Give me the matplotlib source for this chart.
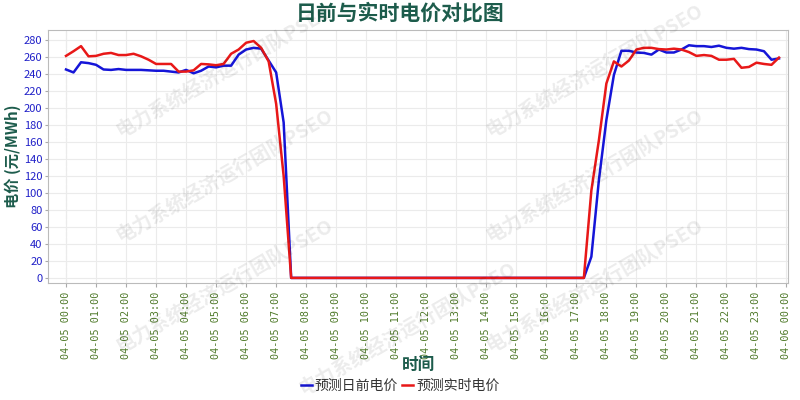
import numpy as np
import matplotlib
matplotlib.use("Agg")
import matplotlib.pyplot as plt

plt.rcParams['font.family'] = ['Noto Sans CJK SC', 'DejaVu Sans']

# 96 points, 15-min resolution, 04-05 00:00 .. 23:45
day_ahead = [
    245.5, 242, 254, 253, 251, 245.5, 245, 246, 245, 245, 245, 244.5,
    244, 244, 243, 242, 245, 241, 244, 249, 248, 250, 250, 263,
    269, 271, 270, 256, 242, 183,
] + [0] * 40 + [
    25, 115, 186, 239, 267.5, 267.5, 265.5, 265, 263, 269, 265.5, 265.5,
    269, 274, 273, 273, 272, 273.5, 271, 270, 271, 269.5, 269, 267,
    257, 258.5,
]
real_time = [
    261.5, 267, 273, 261, 261.5, 264, 265, 262.5, 262.5, 264, 261, 257,
    252, 252, 252, 243, 243, 244.5, 252, 251.5, 250.5, 252, 264, 269,
    277, 279, 271, 255, 205, 120,
] + [0] * 40 + [
    103, 162, 229, 255, 249, 256, 269, 271, 271, 269.5, 269, 270,
    269, 266, 261.5, 262.5, 261.5, 257, 257, 258, 247.5, 248.5, 253.5, 252,
    251, 259.5,
]
hours = np.arange(len(day_ahead)) * 0.25
tick_hours = list(range(25))
tick_labels = [f"04-05 {h:02d}:00" for h in range(24)] + ["04-06 00:00"]

fig = plt.figure(figsize=(8, 4), dpi=100)
ax = fig.add_axes([0.06, 0.2925, 0.925, 0.6325])

ax.plot(hours, day_ahead, color="#1515d8", linewidth=1.8, label="预测日前电价", zorder=3)
ax.plot(hours, real_time, color="#e81818", linewidth=1.8, label="预测实时电价", zorder=3)

ax.set_xlim(-0.6, 24.05)
ax.set_ylim(-6, 292)
ax.set_yticks(range(0, 281, 20))
ax.set_xticks(tick_hours)
ax.set_xticklabels(tick_labels, rotation=90, fontsize=7.3, color="#4f7a2a",
                   family="DejaVu Sans Mono")
ax.tick_params(axis="y", labelsize=8, labelcolor="#2020c8", length=2, pad=2, color="#aaaaaa")
ax.tick_params(axis="x", length=3, color="#aaaaaa")
ax.grid(True, color="#ebebeb", linewidth=0.8)
ax.axvline(0, color="#cccccc", linewidth=0.8, linestyle="--", zorder=1)
for s in ax.spines.values():
    s.set_color("#bbbbbb")

fig.text(0.5, 1 - 13 / 400, "日前与实时电价对比图", fontsize=15, fontweight="bold",
         color="#1d5c4c", ha="center", va="center")
ax.set_ylabel("电价 (元/MWh)", fontsize=11, fontweight="bold", color="#1d5c4c")
ax.yaxis.set_label_coords(-0.037, 0.5)
ax.set_xlabel("时间", fontsize=12, fontweight="bold", color="#1d5c4c")
ax.xaxis.set_label_coords(0.5, -0.29)

leg = fig.legend(loc="center", bbox_to_anchor=(0.5, 1 - 386 / 400), ncol=2, frameon=False,
                 fontsize=10, handlelength=0.8, handletextpad=0.2, columnspacing=0.3)
for t in leg.get_texts():
    t.set_color("#333333")

# watermark
wm = "电力系统经济运行团队PSEO"
for cx, cy in [(225, 70), (595, 70), (225, 175), (595, 175), (225, 285), (595, 285),
               (408, 328)]:
    fig.text(cx / 800, 1 - cy / 400, wm, fontsize=14, fontweight="bold", color="#000000",
             alpha=0.08, rotation=30, ha="center", va="center", zorder=10)

fig.savefig("out.png", dpi=100)
